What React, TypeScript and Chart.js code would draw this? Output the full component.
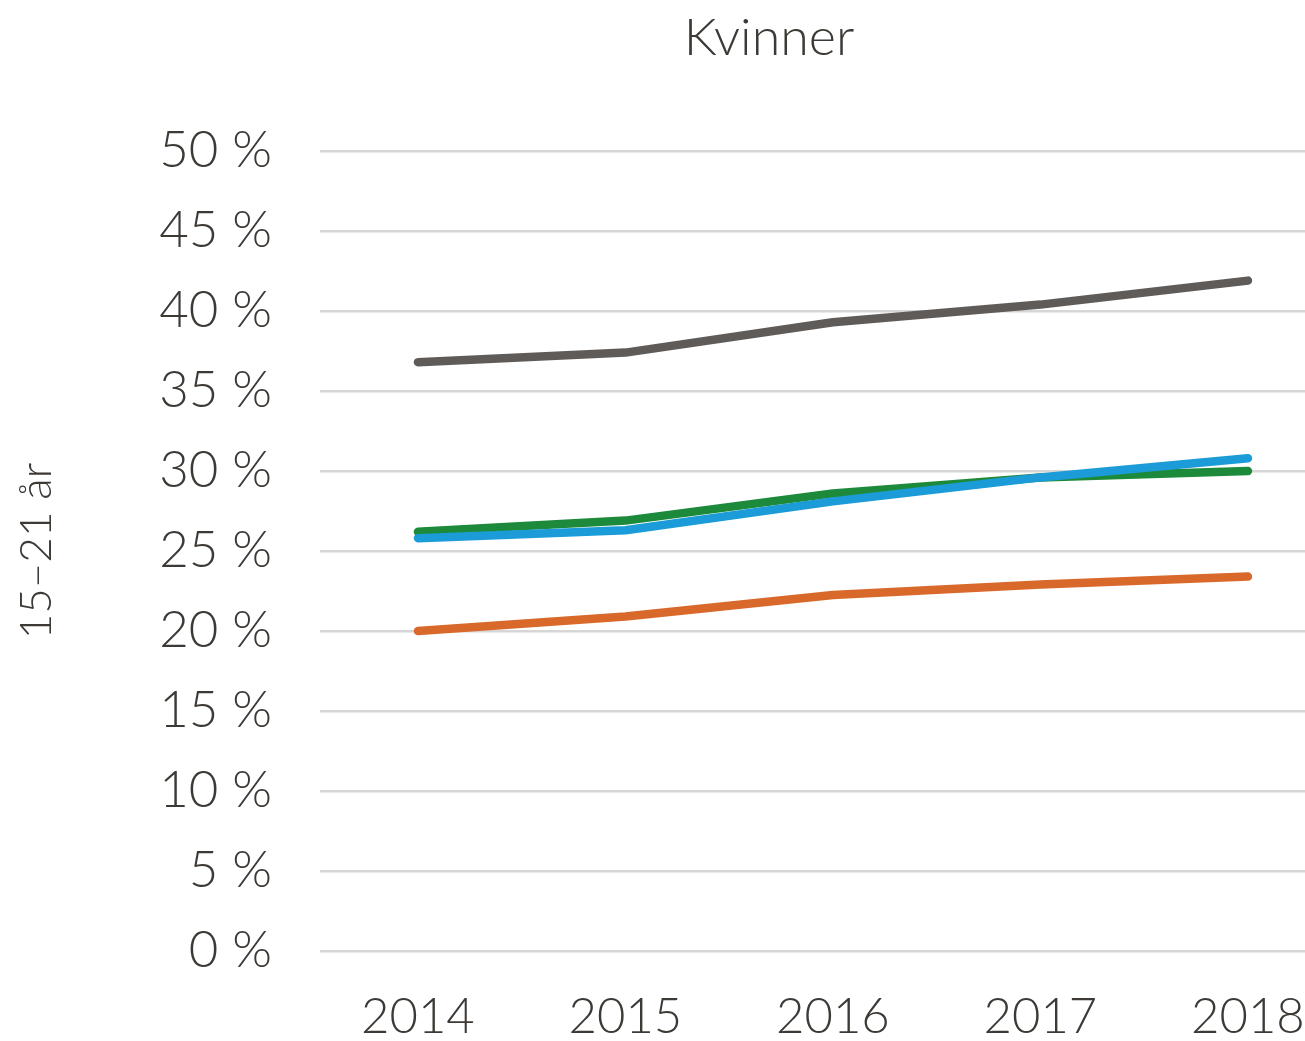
import React, { useEffect, useRef } from "react";
import { Chart, registerables } from "chart.js";

Chart.register(...registerables);

const years = [2014, 2015, 2016, 2017, 2018];
const grayValues = [36.8, 37.4, 39.3, 40.4, 41.9];
const orangeValues = [20.0, 20.9, 22.25, 22.9, 23.4];
const blueValues = [25.8, 26.3, 28.1, 29.6, 30.8];
const greenValues = [26.2, 26.9, 28.6, 29.6, 30.0];
const yTicks = [0, 5, 10, 15, 20, 25, 30, 35, 40, 45, 50];
const chartTitle = "Kvinner";
const yTitle = "15–21 år";

const TEXT = "#3d3935";
const FONT = "Lato, 'Open Sans', sans-serif";

const toPoints = (vals: number[]) => years.map((y, i) => ({ x: y, y: vals[i] }));

const titlePlugin = {
  id: "offsetTitle",
  afterDraw(chart: any) {
    const c = chart.ctx;
    c.save();
    c.fillStyle = TEXT;
    c.font = `300 52px ${FONT}`;
    c.textAlign = "center";
    c.textBaseline = "middle";
    c.fillText(chartTitle, 769, 38);
    c.restore();
  },
};

export default function App() {
  const ref = useRef<HTMLCanvasElement>(null);
  useEffect(() => {
    document.body.style.margin = "0";
    const ctx = ref.current!;
    const mk = (label: string, vals: number[], color: string) => ({
      label,
      data: toPoints(vals),
      borderColor: color,
      backgroundColor: color,
      borderWidth: 8.5,
      borderCapStyle: "round" as const,
      borderJoinStyle: "round" as const,
      pointRadius: 0,
      tension: 0,
    });
    const chart = new Chart(ctx, {
      type: "line",
      data: {
        datasets: [
          mk("Grå", grayValues, "#5f5b58"),
          mk("Oransje", orangeValues, "#d9692a"),
          mk("Blå", blueValues, "#1b9bd7"),
          mk("Grønn", greenValues, "#1d8a3b"),
        ],
      },
      plugins: [titlePlugin],
      options: {
        animation: false,
        responsive: true,
        maintainAspectRatio: false,
        layout: { padding: { left: 0, right: 0, top: 151, bottom: 0 } },
        plugins: {
          legend: { display: false },
          tooltip: { enabled: false },
          title: { display: false },
        },
        scales: {
          x: {
            type: "linear",
            min: 2013.528,
            max: 2018.275,
            border: { display: false },
            grid: { display: false, drawTicks: false },
            afterFit: (s: any) => {
              s.height = 90;
              s.paddingLeft = 0;
              s.paddingRight = 0;
            },
            afterBuildTicks: (s: any) => {
              s.ticks = years.map((v) => ({ value: v }));
            },
            ticks: {
              includeBounds: false,
              stepSize: 1,
              padding: 37,
              color: TEXT,
              maxRotation: 0,
              autoSkip: false,
              font: { family: FONT, size: 49, weight: 300 as any },
              callback: (v: any) => String(v),
            },
          },
          y: {
            min: 0,
            max: 50,
            border: { display: false },
            grid: { color: "#d6d6d6", lineWidth: 2.5, drawTicks: false },
            afterFit: (s: any) => {
              s.width = 320;
              s.paddingTop = 0;
              s.paddingBottom = 0;
            },
            afterBuildTicks: (s: any) => {
              s.ticks = yTicks.map((v) => ({ value: v }));
            },
            ticks: {
              padding: 48,
              color: TEXT,
              font: { family: FONT, size: 51, weight: 300 as any },
              callback: (v: any) => v + " %",
            },
            title: {
              display: true,
              text: yTitle,
              color: TEXT,
              font: { family: FONT, size: 44, weight: 300 as any, lineHeight: 1.2 },
              padding: { top: 10, bottom: 0 },
            },
          },
        },
      },
    });
    return () => chart.destroy();
  }, []);
  return (
    <div style={{ width: 1305, height: 1041, position: "relative", background: "#ffffff" }}>
      <canvas ref={ref} />
    </div>
  );
}
